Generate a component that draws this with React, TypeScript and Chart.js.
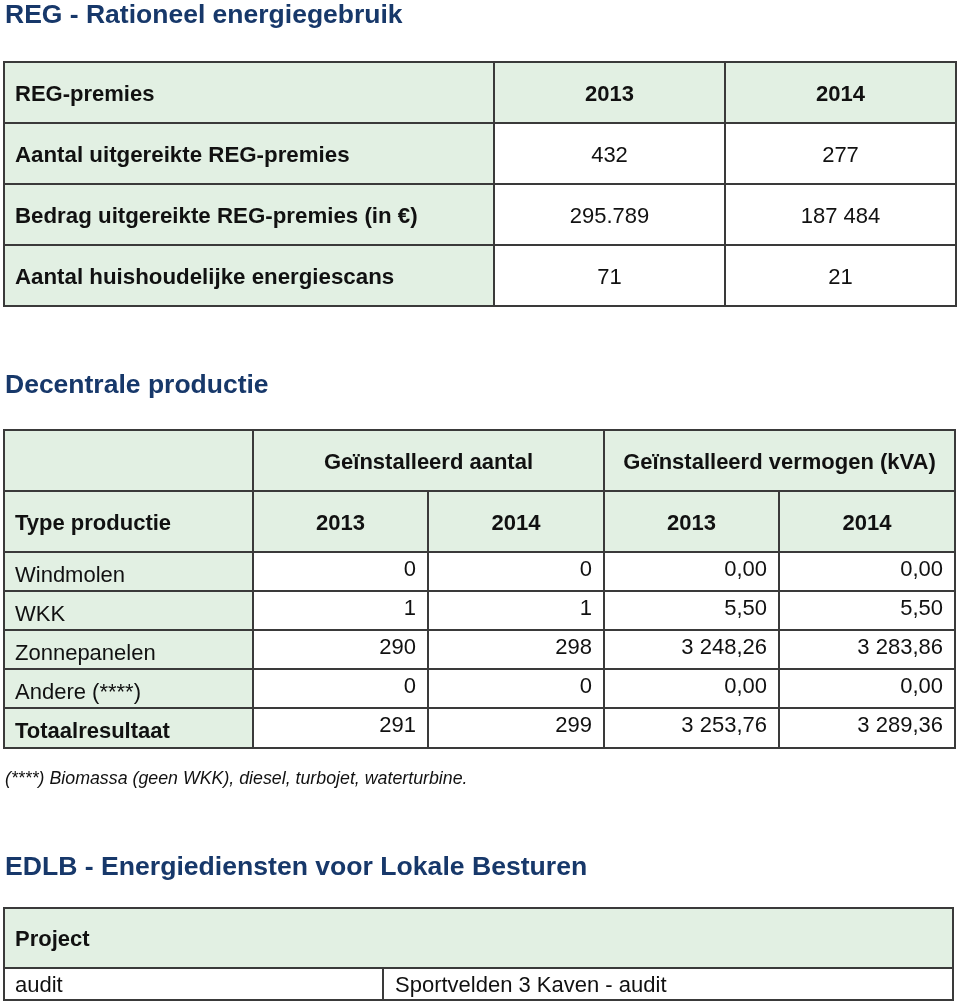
import React, { useEffect, useRef } from 'react';
import { Chart, registerables } from 'chart.js';

Chart.register(...registerables);

// ---------- Data ----------
const sectionTitles = [
  'REG - Rationeel energiegebruik',
  'Decentrale productie',
  'EDLB - Energiediensten voor Lokale Besturen',
];

const regHeader = ['REG-premies', '2013', '2014'];
const regLabels = [
  'Aantal uitgereikte REG-premies',
  'Bedrag uitgereikte REG-premies (in €)',
  'Aantal huishoudelijke energiescans',
];
const reg2013 = ['432', '295.789', '71'];
const reg2014 = ['277', '187 484', '21'];

const prodGroups = ['Geïnstalleerd aantal', 'Geïnstalleerd vermogen (kVA)'];
const prodHeader = ['Type productie', '2013', '2014', '2013', '2014'];
const prodTypes = ['Windmolen', 'WKK', 'Zonnepanelen', 'Andere (****)', 'Totaalresultaat'];
const aantal2013 = [0, 1, 290, 0, 291];
const aantal2014 = [0, 1, 298, 0, 299];
const vermogen2013 = [0, 5.5, 3248.26, 0, 3253.76];
const vermogen2014 = [0, 5.5, 3283.86, 0, 3289.36];

const footnote = '(****) Biomassa (geen WKK), diesel, turbojet, waterturbine.';

const edlbHeader = ['Project'];
const edlbTypes = ['audit'];
const edlbProjects = ['Sportvelden 3 Kaven - audit'];

// ---------- Styling / layout ----------
const GREEN = '#e2f0e3';
const WHITE = '#ffffff';
const LINE = '#3a3a3a';
const NAVY = '#17386a';
const TEXT = '#111111';
const FAMILY = '"Liberation Sans", Arial, Helvetica, sans-serif';

const W = 960;
const H = 1003;

function fmtInt(n: number): string {
  const s = Math.round(n).toString();
  return s.replace(/\B(?=(\d{3})+(?!\d))/g, ' ');
}
function fmtDec(n: number): string {
  const [i, d] = n.toFixed(2).split('.');
  return fmtInt(parseInt(i, 10)) + ',' + d;
}

type Cell = { x0: number; x1: number; y0: number; y1: number; fill: string };

const tablesPlugin = {
  id: 'tablesPlugin',
  afterDraw(chart: any) {
    const ctx: CanvasRenderingContext2D = chart.ctx;
    const xs = chart.scales.x;
    const ys = chart.scales.y;
    const px = (v: number) => xs.getPixelForValue(v);
    const py = (v: number) => ys.getPixelForValue(v);

    ctx.save();
    ctx.fillStyle = WHITE;
    ctx.fillRect(px(0), py(0), px(W) - px(0), py(H) - py(0));

    const cells: Cell[] = [];
    const addCell = (x0: number, x1: number, y0: number, y1: number, fill: string) =>
      cells.push({ x0, x1, y0, y1, fill });

    const text = (
      s: string, x: number, y: number,
      opts: { bold?: boolean; italic?: boolean; size?: number; align?: CanvasTextAlign; color?: string } = {}
    ) => {
      const size = opts.size ?? 22;
      ctx.font = `${opts.italic ? 'italic ' : ''}${opts.bold ? 'bold ' : ''}${size}px ${FAMILY}`;
      ctx.fillStyle = opts.color ?? TEXT;
      ctx.textAlign = opts.align ?? 'left';
      ctx.textBaseline = 'alphabetic';
      ctx.fillText(s, px(x), py(y));
    };

    // ----- Table 1 -----
    const t1x = [4, 494, 725, 956];
    const t1y = [62, 123, 184, 245, 306];
    for (let c = 0; c < 3; c++) addCell(t1x[c], t1x[c + 1], t1y[0], t1y[1], GREEN);
    for (let r = 0; r < regLabels.length; r++) {
      addCell(t1x[0], t1x[1], t1y[r + 1], t1y[r + 2], GREEN);
      addCell(t1x[1], t1x[2], t1y[r + 1], t1y[r + 2], WHITE);
      addCell(t1x[2], t1x[3], t1y[r + 1], t1y[r + 2], WHITE);
    }

    // ----- Table 2 -----
    const t2x = [4, 253, 428, 604, 779, 955];
    const t2y = [430, 491, 552, 591, 630, 669, 708, 748];
    addCell(t2x[0], t2x[1], t2y[0], t2y[1], GREEN);
    addCell(t2x[1], t2x[3], t2y[0], t2y[1], GREEN);
    addCell(t2x[3], t2x[5], t2y[0], t2y[1], GREEN);
    for (let c = 0; c < 5; c++) addCell(t2x[c], t2x[c + 1], t2y[1], t2y[2], GREEN);
    for (let r = 0; r < prodTypes.length; r++) {
      for (let c = 0; c < 5; c++)
        addCell(t2x[c], t2x[c + 1], t2y[r + 2], t2y[r + 3], c === 0 ? GREEN : WHITE);
    }

    // ----- Table 3 -----
    const t3x = [4, 383, 953];
    const t3y = [908, 968, 1000];
    addCell(t3x[0], t3x[2], t3y[0], t3y[1], GREEN);
    for (let r = 0; r < edlbTypes.length; r++) {
      addCell(t3x[0], t3x[1], t3y[r + 1], t3y[r + 2], WHITE);
      addCell(t3x[1], t3x[2], t3y[r + 1], t3y[r + 2], WHITE);
    }

    // fills
    for (const c of cells) {
      ctx.fillStyle = c.fill;
      ctx.fillRect(px(c.x0), py(c.y0), px(c.x1) - px(c.x0), py(c.y1) - py(c.y0));
    }
    // borders
    ctx.strokeStyle = LINE;
    ctx.lineWidth = 2;
    for (const c of cells) {
      ctx.strokeRect(px(c.x0), py(c.y0), px(c.x1) - px(c.x0), py(c.y1) - py(c.y0));
    }

    // ----- Titles -----
    text(sectionTitles[0], 5, 23, { bold: true, size: 26.5, color: NAVY });
    text(sectionTitles[1], 5, 393, { bold: true, size: 26.5, color: NAVY });
    text(sectionTitles[2], 5, 875, { bold: true, size: 26.6, color: NAVY });

    // ----- Table 1 text -----
    const mid = (a: number, b: number) => (a + b) / 2;
    const off = 8;
    text(regHeader[0], 15, mid(t1y[0], t1y[1]) + off, { bold: true });
    text(regHeader[1], mid(t1x[1], t1x[2]), mid(t1y[0], t1y[1]) + off, { bold: true, align: 'center' });
    text(regHeader[2], mid(t1x[2], t1x[3]), mid(t1y[0], t1y[1]) + off, { bold: true, align: 'center' });
    for (let r = 0; r < regLabels.length; r++) {
      const yy = mid(t1y[r + 1], t1y[r + 2]) + off;
      text(regLabels[r], 15, yy, { bold: true, size: 22.3 });
      text(reg2013[r], mid(t1x[1], t1x[2]), yy, { align: 'center' });
      text(reg2014[r], mid(t1x[2], t1x[3]), yy, { align: 'center' });
    }

    // ----- Table 2 text -----
    text(prodGroups[0], mid(t2x[1], t2x[3]), mid(t2y[0], t2y[1]) + off, { bold: true, align: 'center' });
    text(prodGroups[1], mid(t2x[3], t2x[5]), mid(t2y[0], t2y[1]) + off, { bold: true, align: 'center' });
    text(prodHeader[0], 15, mid(t2y[1], t2y[2]) + off, { bold: true });
    for (let c = 1; c < 5; c++)
      text(prodHeader[c], mid(t2x[c], t2x[c + 1]), mid(t2y[1], t2y[2]) + off, { bold: true, align: 'center' });
    for (let r = 0; r < prodTypes.length; r++) {
      const ym = mid(t2y[r + 2], t2y[r + 3]);
      const isTotal = r === prodTypes.length - 1;
      text(prodTypes[r], 15, ym + off + 2, { bold: isTotal });
      const vals = [
        fmtInt(aantal2013[r]),
        fmtInt(aantal2014[r]),
        fmtDec(vermogen2013[r]),
        fmtDec(vermogen2014[r]),
      ];
      for (let c = 0; c < 4; c++) text(vals[c], t2x[c + 2] - 12, ym + off - 4, { align: 'right' });
    }

    // footnote
    text(footnote, 5, 784, { italic: true, size: 17.8 });

    // ----- Table 3 text -----
    text(edlbHeader[0], 15, mid(t3y[0], t3y[1]) + off, { bold: true });
    for (let r = 0; r < edlbTypes.length; r++) {
      const yy = mid(t3y[r + 1], t3y[r + 2]) + off;
      text(edlbTypes[r], 15, yy);
      text(edlbProjects[r], t3x[1] + 12, yy);
    }

    ctx.restore();
  },
};

export default function App() {
  const canvasRef = useRef<HTMLCanvasElement | null>(null);

  useEffect(() => {
    if (!canvasRef.current) return;
    const chart = new Chart(canvasRef.current, {
      type: 'scatter',
      data: { datasets: [{ data: [], pointRadius: 0 }] },
      options: {
        animation: false,
        responsive: false,
        maintainAspectRatio: false,
        devicePixelRatio: 1,
        layout: { padding: 0 },
        plugins: { legend: { display: false }, tooltip: { enabled: false } },
        events: [],
        scales: {
          x: { type: 'linear', min: 0, max: W, display: false },
          y: { type: 'linear', min: 0, max: H, reverse: true, display: false },
        },
      },
      plugins: [tablesPlugin],
    });
    return () => chart.destroy();
  }, []);

  return (
    <div style={{ position: 'absolute', left: 0, top: 0, width: W, height: H, background: '#fff' }}>
      <canvas ref={canvasRef} width={W} height={H} style={{ display: 'block', width: W, height: H }} />
    </div>
  );
}
